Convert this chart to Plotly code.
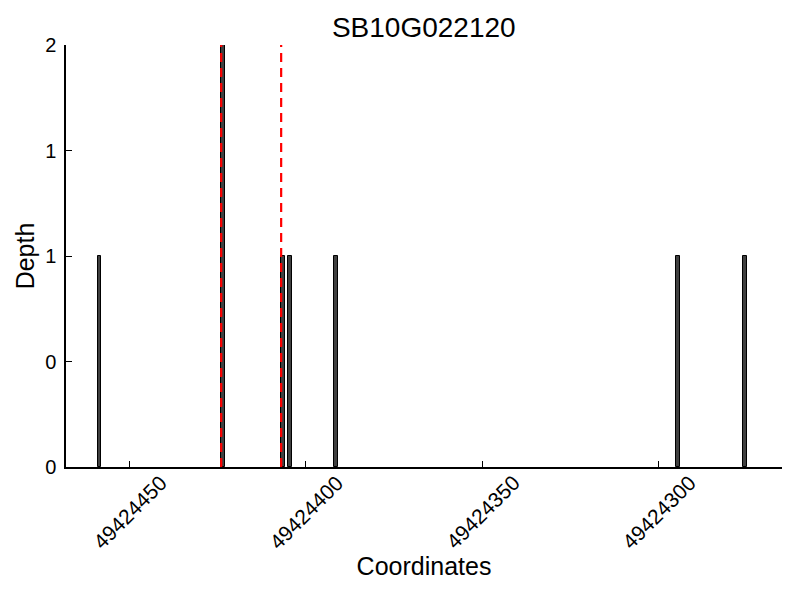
import plotly.graph_objects as go

# Data (bars span [x, x+1])
coordinates = [49424458, 49424423, 49424406, 49424404, 49424391, 49424294, 49424275]
depths = [1, 2, 1, 1, 1, 1, 1]
gene_bounds = [49424424, 49424407]
x_tick_vals = [49424450, 49424400, 49424350, 49424300]
x_tick_text = ["49424450", "49424400", "49424350", "49424300"]
y_tick_vals = [0, 0.5, 1, 1.5, 2]
y_tick_text = ["0", "0", "1", "1", "2"]
title_text = "SB10G022120"

font_family = "Liberation Sans, Arial, sans-serif"

fig = go.Figure()
fig.add_trace(go.Bar(
    x=coordinates, y=depths, width=1.1, offset=-0.05,
    marker=dict(color="#404040", line=dict(color="black", width=1)),
    showlegend=False,
))

for gb in gene_bounds:
    fig.add_shape(type="line", xref="x", yref="y", x0=gb, x1=gb, y0=0, y1=2,
                  line=dict(color="red", width=2.2, dash="9px,6px"), layer="above")

# x tick labels centred on their ticks (rotated 45 degrees)
for tv, tt in zip(x_tick_vals, x_tick_text):
    fig.add_annotation(x=tv, xref="x", y=0, yref="paper", yshift=-45,
                       text=tt, textangle=-45, showarrow=False,
                       xanchor="center", yanchor="middle",
                       font=dict(size=21, family=font_family, color="black"))

# page body has an 8px margin, so the figure is 792x592 offset by 8px
fig.update_layout(
    width=792, height=592,
    margin=dict(l=58, r=18, t=37, b=133),
    paper_bgcolor="white", plot_bgcolor="white",
    title=dict(text=title_text, x=0.525, xanchor="center", y=0.968, yanchor="middle",
               font=dict(family=font_family, size=28, color="black")),
    font=dict(family=font_family, color="black"),
    bargap=0,
)
fig.update_xaxes(
    range=[49424468, 49424265],
    tickvals=x_tick_vals, showticklabels=False,
    ticks="inside", ticklen=6, tickcolor="black", tickwidth=1,
    showline=True, linecolor="black", linewidth=1.5, showgrid=False, zeroline=False,
    automargin=False,
    title=dict(text="Coordinates", font=dict(size=25, family=font_family, color="black"), standoff=90),
)
fig.update_yaxes(
    range=[0, 2],
    tickvals=y_tick_vals, ticktext=y_tick_text,
    ticks="inside", ticklen=6, tickcolor="black", tickwidth=1,
    ticklabelstandoff=4,
    tickfont=dict(size=20, family=font_family, color="black"),
    showline=True, linecolor="black", linewidth=1.5, showgrid=False, zeroline=False,
    automargin=False,
    title=dict(text="Depth", font=dict(size=25, family=font_family, color="black"), standoff=3),
)

fig.write_html("out.html")
